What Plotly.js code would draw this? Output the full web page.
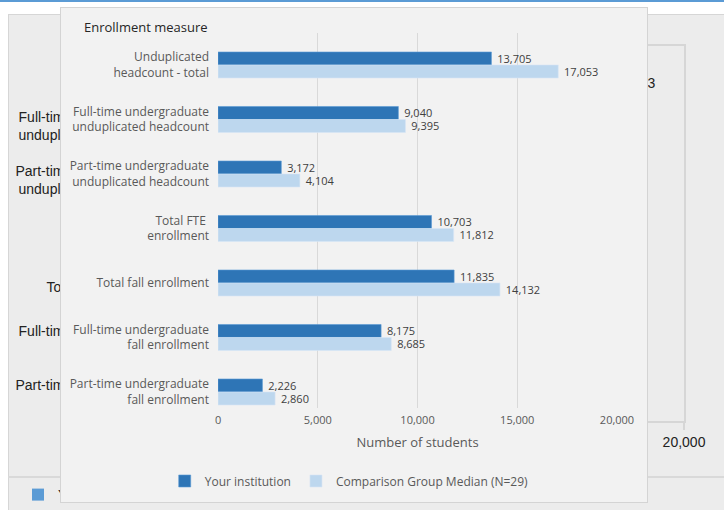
<!DOCTYPE html>
<html>
<head>
<meta charset="utf-8">
<script src="https://cdn.plot.ly/plotly-3.0.1.min.js"></script>
<style>
  html, body { margin: 0; padding: 0; background: #ffffff; width: 724px; height: 510px; overflow: hidden; }
  #topline { position: absolute; left: 0; top: 0; width: 724px; height: 2px; background: #5b9bd5; }
  #panel { position: absolute; left: 8px; top: 14px; width: 730px; height: 510px; background: #ececec;
           border-left: 1px solid #d6d6d6; border-top: 1px solid #d6d6d6; }
  #footline { position: absolute; left: 8px; top: 476px; width: 724px; height: 2px; background: #d9d9d9; }
  #back { position: absolute; left: 0; top: 0; width: 724px; height: 540px; }
  #card { position: absolute; left: 60px; top: 7px; width: 588px; height: 496px; box-sizing: border-box;
          border: 1px solid #d4d4d4; background: #f2f2f2; }
  #front { width: 586px; height: 494px; }
</style>
</head>
<body>
<div id="topline"></div>
<div id="panel"></div>
<div id="footline"></div>
<div id="back"></div>
<div id="card"><div id="front"></div></div>
<script>
// ---- data ----
const categories = [
  'Unduplicated headcount - total',
  'Full-time undergraduate unduplicated headcount',
  'Part-time undergraduate unduplicated headcount',
  'Total FTE enrollment',
  'Total fall enrollment',
  'Full-time undergraduate fall enrollment',
  'Part-time undergraduate fall enrollment'
];
const frontLabels = [
  'Unduplicated<br>headcount - total',
  'Full-time undergraduate<br>unduplicated headcount',
  'Part-time undergraduate<br>unduplicated headcount',
  'Total FTE <br>enrollment',
  'Total fall enrollment',
  'Full-time undergraduate<br>fall enrollment',
  'Part-time undergraduate<br>fall enrollment'
];
const backLabels = [
  'Unduplicated<br>headcount - total',
  'Full-time undergraduate<br>unduplicated headcount',
  'Part-time undergraduate<br>unduplicated headcount',
  'Total FTE<br>enrollment',
  'Total fall enrollment',
  'Full-time undergraduate<br>fall enrollment',
  'Part-time undergraduate<br>fall enrollment'
];
const yourInstitution = [13705, 9040, 3172, 10703, 11835, 8175, 2226];
const comparisonMedian = [17053, 9395, 4104, 11812, 14132, 8685, 2860];
const seriesNames = ['Your institution', 'Comparison Group Median (N=29)'];
const xTickVals = [0, 5000, 10000, 15000, 20000];

// ---- background (partially hidden) chart ----
const bgFont = 'Liberation Sans, Arial, sans-serif';
const bgText = { family: bgFont, size: 14, color: '#222' };
const backTraces = [
  { type: 'bar', orientation: 'h', name: seriesNames[0], y: categories, x: yourInstitution,
    marker: { color: '#5b9bd5' }, texttemplate: '%{x:,}', textposition: 'outside',
    constraintext: 'none', cliponaxis: false, textfont: bgText },
  { type: 'bar', orientation: 'h', name: seriesNames[1], y: categories, x: comparisonMedian,
    marker: { color: '#c5d9f1' }, texttemplate: '%{x:,}', textposition: 'outside',
    constraintext: 'none', cliponaxis: false, textfont: bgText }
];
const backLayout = {
  width: 724, height: 540,
  margin: { l: 8, r: 40, t: 46, b: 5 },
  paper_bgcolor: 'rgba(0,0,0,0)', plot_bgcolor: 'rgba(0,0,0,0)',
  font: bgText,
  barmode: 'group', bargap: 0.25, bargroupgap: 0,
  showlegend: true,
  legend: { orientation: 'h', x: 0.0148, xanchor: 'left', y: 0.0818, yanchor: 'middle',
            font: bgText, bgcolor: 'rgba(0,0,0,0)' },
  xaxis: { domain: [0.2515, 1], range: [0, 20000], tickvals: xTickVals, tickformat: ',',
           showgrid: false, zeroline: false,
           showline: true, mirror: true, linecolor: '#d6d6d6', linewidth: 2,
           ticks: 'outside', ticklen: 7, tickcolor: '#d6d6d6', tickwidth: 2,
           tickfont: bgText, automargin: false, fixedrange: true },
  yaxis: { domain: [0.2331, 1], type: 'category', autorange: 'reversed', tickvals: categories, ticktext: backLabels,
           showgrid: false, zeroline: false, showline: true, mirror: true, linecolor: '#d6d6d6', linewidth: 2,
           ticks: '', ticklabelstandoff: 6, tickfont: bgText, automargin: false, fixedrange: true }
};
Plotly.newPlot('back', backTraces, backLayout, { staticPlot: true, displayModeBar: false });

// ---- front chart ----
const fFont = 'Open Sans, sans-serif';
const frontTraces = [
  { type: 'bar', orientation: 'h', name: seriesNames[0], y: categories, x: yourInstitution,
    marker: { color: '#2e75b6', line: { color: '#5b9bd5', width: 0.6 } },
    texttemplate: ' %{x:,}', textposition: 'outside', constraintext: 'none', cliponaxis: false,
    textfont: { family: fFont, size: 11, color: '#404040' } },
  { type: 'bar', orientation: 'h', name: seriesNames[1], y: categories, x: comparisonMedian,
    marker: { color: '#bdd7ee', line: { color: '#d6e6f5', width: 0.6 } },
    texttemplate: ' %{x:,}', textposition: 'outside', constraintext: 'none', cliponaxis: false,
    textfont: { family: fFont, size: 11, color: '#404040' } }
];
const frontLayout = {
  width: 586, height: 494,
  margin: { l: 5, r: 30, t: 25, b: 5 },
  paper_bgcolor: '#f2f2f2', plot_bgcolor: '#f2f2f2',
  font: { family: fFont, size: 12, color: '#595959' },
  barmode: 'group', bargap: 0.523, bargroupgap: 0,
  showlegend: true,
  legend: { orientation: 'h', x: 0.514, xanchor: 'center', y: 0.0345, yanchor: 'middle',
            font: { family: fFont, size: 12, color: '#595959' }, itemwidth: 30,
            bgcolor: 'rgba(0,0,0,0)' },
  xaxis: { domain: [0.2759, 1], range: [0, 20000], tickvals: xTickVals, tickformat: ',',
           showgrid: true, gridcolor: '#d9d9d9',
           gridwidth: 1, zeroline: false, showline: false, ticks: '', ticklabelstandoff: 4,
           tickfont: { family: fFont, size: 11, color: '#595959' },
           title: { text: 'Number of students', standoff: 11, font: { family: fFont, size: 13, color: '#595959' } },
           automargin: false, fixedrange: true },
  yaxis: { domain: [0.1918, 1], type: 'category', range: [6.294, -0.587], tickvals: categories, ticktext: frontLabels,
           showgrid: false, zeroline: false, showline: false, ticks: '', ticklabelstandoff: 8,
           tickfont: { family: fFont, size: 12, color: '#595959' }, automargin: false, fixedrange: true },
  annotations: [
    { text: 'Enrollment measure', xref: 'paper', yref: 'paper', x: 0.029, y: 1.013,
      xanchor: 'left', yanchor: 'middle', showarrow: false,
      font: { family: fFont, size: 13, color: '#262626' } }
  ]
};
Plotly.newPlot('front', frontTraces, frontLayout, { staticPlot: true, displayModeBar: false });
</script>
</body>
</html>
